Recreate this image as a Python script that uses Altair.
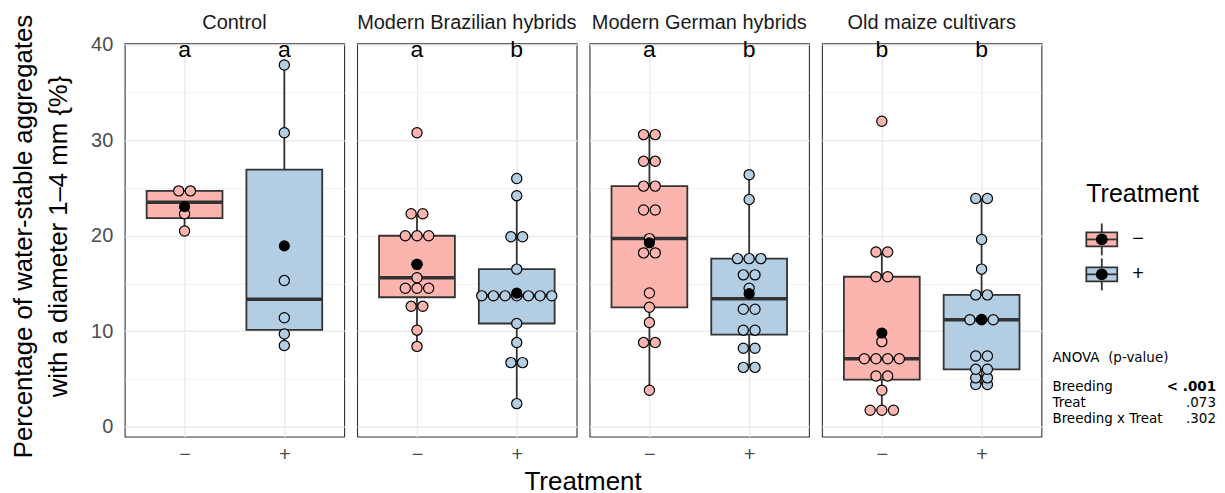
import altair as alt
import numpy as np
import pandas as pd

# ---------------- data ----------------
groups = ["Control", "Modern Brazilian hybrids", "Modern German hybrids", "Old maize cultivars"]
treatments = ["−", "+"]

control_minus = [20.5, 22.3, 24.7, 24.7]
control_plus = [8.5, 9.7, 11.4, 15.3, 30.8, 37.9]
brazil_minus = [8.4, 10.1, 12.6, 12.6, 14.5, 14.5, 14.5, 15.6, 17.0, 20.0, 20.0, 20.0, 22.3, 22.3, 30.8]
brazil_plus = [2.4, 6.7, 6.7, 8.8, 10.8, 13.7, 13.7, 13.7, 13.7, 13.7, 13.7, 13.7, 16.5, 19.9, 19.9, 24.2, 26.0]
german_minus = [3.8, 8.8, 8.8, 10.9, 12.5, 14.0, 18.2, 18.2, 19.7, 22.7, 22.7, 25.2, 25.2, 27.8, 27.8, 30.6, 30.6]
german_plus = [6.2, 6.2, 8.2, 8.2, 10.1, 10.1, 12.3, 12.3, 14.5, 15.9, 15.9, 17.6, 17.6, 17.6, 23.8, 26.4]
old_minus = [1.7, 1.7, 1.7, 3.8, 5.3, 5.3, 7.1, 7.1, 7.1, 7.1, 8.9, 15.7, 15.7, 18.3, 18.3, 32.0]
old_plus = [4.4, 4.4, 5.1, 5.1, 6.0, 6.0, 7.4, 7.4, 11.2, 11.2, 11.2, 13.8, 13.8, 16.5, 19.6, 23.9, 23.9]

letters_minus = ["a", "a", "a", "b"]
letters_plus = ["a", "b", "b", "b"]

anova_terms = ["Breeding", "Treat", "Breeding x Treat"]
anova_p = ["< .001", ".073", ".302"]

y_title = ["Percentage of water-stable aggregates", "with a diameter 1–4 mm {%}"]
x_title = "Treatment"

# ---------------- styles ----------------
PINK = "#FBB4AE"
BLUE = "#B3CDE3"
DARK = "#333333"
GRID = "#EBEBEB"
FONT = "Liberation Sans"
MONO = "DejaVu Sans"
PW, PH = 220, 394
XHALF = 0.38
DOT = 0.117

series = {
    (groups[0], "−"): control_minus, (groups[0], "+"): control_plus,
    (groups[1], "−"): brazil_minus, (groups[1], "+"): brazil_plus,
    (groups[2], "−"): german_minus, (groups[2], "+"): german_plus,
    (groups[3], "−"): old_minus, (groups[3], "+"): old_plus,
}

rows, srows = [], []
for (g, t), vals in series.items():
    pos = 1 if t == "−" else 2
    for v in vals:
        rows.append(dict(group=g, treatment=t, value=v, pos=pos))
    a = np.array(vals, dtype=float)
    q1, med, q3 = np.percentile(a, [25, 50, 75])
    iqr = q3 - q1
    lo = a[a >= q1 - 1.5 * iqr].min()
    hi = a[a <= q3 + 1.5 * iqr].max()
    srows.append(dict(group=g, treatment=t, pos=pos, x1=pos - XHALF, x2=pos + XHALF,
                      q1=q1, med=med, q3=q3, lo=lo, hi=hi, mean=a.mean()))
pts = pd.DataFrame(rows)
key = ["group", "treatment", "value"]
pts["k"] = pts.groupby(key).cumcount()
pts["n"] = pts.groupby(key)["value"].transform("size")
pts["xdot"] = pts["pos"] + (pts["k"] - (pts["n"] - 1) / 2) * DOT
stats = pd.DataFrame(srows)

lab_rows = []
for i, g in enumerate(groups):
    lab_rows.append(dict(group=g, pos=1, letter=letters_minus[i], ly=38.75))
    lab_rows.append(dict(group=g, pos=2, letter=letters_plus[i], ly=38.75))
labs = pd.DataFrame(lab_rows)

color = alt.Color("treatment:N", scale=alt.Scale(domain=treatments, range=[PINK, BLUE]), legend=None)
xscale = alt.Scale(domain=[0.4, 2.6], nice=False, zero=False)
yscale = alt.Scale(domain=[-1.05, 40.15], nice=False, zero=False)


def panel(i, g):
    xa = dict(values=[1, 2], labelExpr="datum.value == 1 ? '−' : '+'", ticks=False, domain=False,
              grid=True, gridColor=GRID, gridWidth=1.4, labelFontSize=20, labelColor="#4d4d4d",
              labelFont=FONT, labelPadding=8)
    if i == 1:
        xa.update(title=x_title, titleX=226, titleAlign="center", titleFontSize=26, titleFont=FONT,
                  titleFontWeight="normal", titleColor="black", titlePadding=4)
        xtitle = x_title
    else:
        xtitle = None
    ya = dict(values=list(range(0, 41, 5)), ticks=False, domain=False, grid=True,
              gridColor=GRID,
              gridWidth={"condition": {"test": "datum.value % 10 === 0", "value": 1.4}, "value": 0.7})
    if i == 0:
        ya.update(labelExpr="datum.value % 10 === 0 ? datum.label : ''", labelFontSize=20,
                  labelColor="#4d4d4d", labelFont=FONT, labelPadding=12, title=y_title,
                  titleFontSize=25.8, titleFont=FONT, titleFontWeight="normal", titleColor="black",
                  titleLineHeight=35, titlePadding=19, titleY=193, titleAlign="center")
        ytitle = y_title
    else:
        ya.update(labels=False, title=None)
        ytitle = None
    xaxis = alt.Axis(**xa)
    yaxis = alt.Axis(**ya)

    def X(f):
        return alt.X(f"{f}:Q", scale=xscale, axis=xaxis, title=xtitle)

    def Y(f):
        return alt.Y(f"{f}:Q", scale=yscale, axis=yaxis, title=ytitle)

    S = stats[stats.group == g]
    P = pts[pts.group == g]
    L = labs[labs.group == g]

    whisk = alt.Chart(S).mark_rule(color=DARK, strokeWidth=1.8).encode(x=X("pos"), y=Y("lo"), y2="hi:Q")
    box = alt.Chart(S).mark_rect(stroke=DARK, strokeWidth=1.8).encode(
        x=X("x1"), x2="x2:Q", y=Y("q1"), y2="q3:Q", fill=color)
    med = alt.Chart(S).mark_rule(color=DARK, strokeWidth=3.5).encode(x=X("x1"), x2="x2:Q", y=Y("med"))
    dots = alt.Chart(P).mark_circle(size=105, opacity=1, stroke="black", strokeWidth=1.2).encode(
        x=X("xdot"), y=Y("value"), fill=color)
    mean = alt.Chart(S).mark_circle(size=125, color="black", opacity=1).encode(x=X("pos"), y=Y("mean"))
    let = alt.Chart(L).mark_text(fontSize=23, font=FONT, baseline="alphabetic", color="black").encode(
        x=X("pos"), y=Y("ly"), text="letter:N")
    head = alt.Chart(pd.DataFrame({"g": [g]})).mark_text(
        fontSize=20, font=FONT, baseline="middle", align="center", color="#1a1a1a"
    ).encode(x=alt.value(PW / 2), y=alt.value(-20.5), text="g:N")

    return alt.layer(whisk, box, med, dots, mean, let, head).properties(
        width=PW, height=PH,
        view=alt.ViewBackground(stroke=DARK, strokeWidth=1.1),
    )


def txt(s, x, y, size, align="left", font=FONT, weight="normal"):
    return alt.Chart(pd.DataFrame({"t": [s]})).mark_text(
        align=align, baseline="middle", fontSize=size, font=font, fontWeight=weight, color="black"
    ).encode(x=alt.value(x), y=alt.value(y), text="t:N")


def legend_key(fill, cy, label):
    one = pd.DataFrame({"t": [label]})
    rect = alt.Chart(one).mark_rect(fill=fill, stroke=DARK, strokeWidth=1.8).encode(
        x=alt.value(32), x2=alt.value(63), y=alt.value(cy - 7), y2=alt.value(cy + 7))
    wh = alt.Chart(one).mark_rule(color=DARK, strokeWidth=1.8).encode(
        x=alt.value(47.5), y=alt.value(cy - 16), y2=alt.value(cy + 16))
    md = alt.Chart(one).mark_rule(color=DARK, strokeWidth=1.8).encode(
        x=alt.value(32), x2=alt.value(63), y=alt.value(cy))
    dt = alt.Chart(one).mark_circle(size=140, color="black", opacity=1).encode(
        x=alt.value(47.5), y=alt.value(cy))
    return [wh, rect, md, dt, txt(label, 78, cy, 20)]


leg_layers = [txt("Treatment", 32, 150.5, 25)]
leg_layers += legend_key(PINK, 196.4, treatments[0])
leg_layers += legend_key(BLUE, 231.4, treatments[1])
leg_layers.append(txt("ANOVA\u00a0 (p-value)", -2, 315.5, 13.5, font=MONO))
for j, (term, p) in enumerate(zip(anova_terms, anova_p)):
    yy = 344.5 + j * 16
    leg_layers.append(txt(term, -2, yy, 13.5, font=MONO))
    leg_layers.append(txt(p, 162, yy, 13.5, align="right", font=MONO,
                          weight="bold" if j == 0 else "normal"))

legend_panel = alt.layer(*leg_layers).properties(
    width=162, height=PH,
    view=alt.ViewBackground(strokeWidth=0),
)

chart = alt.hconcat(
    *[panel(i, g) for i, g in enumerate(groups)], legend_panel, spacing=13, bounds="flush"
).properties(
    padding={"left": 2, "top": 3, "right": 1, "bottom": 2}
).configure_view(stroke=DARK)

chart.save("out.html", embed_options={"renderer": "svg", "actions": False})
